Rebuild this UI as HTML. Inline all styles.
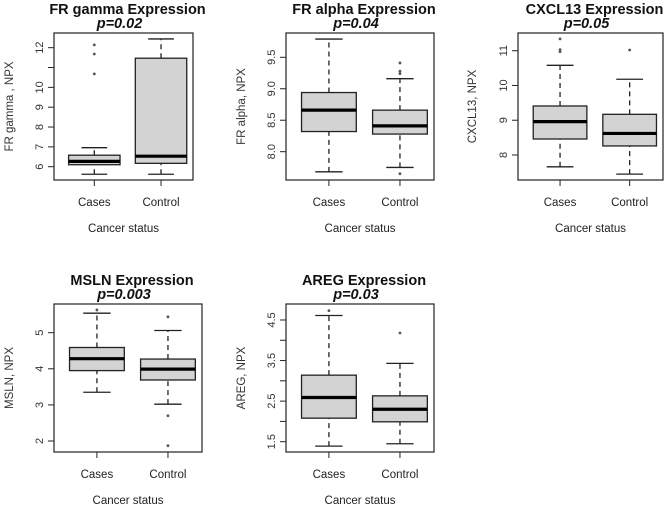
<!DOCTYPE html>
<html><head><meta charset="utf-8">
<style>
html,body{margin:0;padding:0;background:#fff;}
svg{display:block;font-family:"Liberation Sans",Arial,sans-serif;}
</style></head>
<body>
<svg id="chart" width="669" height="506" viewBox="0 0 669 506" xmlns="http://www.w3.org/2000/svg"></svg>
<script>
// ---- data ----
const categories = ["Cases", "Control"];
const titles = ["FR gamma  Expression", "FR alpha Expression", "CXCL13  Expression", "MSLN Expression", "AREG Expression"];
const pValues = ["p=0.02", "p=0.04", "p=0.05", "p=0.003", "p=0.03"];
const yTitles = ["FR gamma  , NPX", "FR alpha, NPX", "CXCL13, NPX", "MSLN, NPX", "AREG, NPX"];
// stats per category: [lowWhisker, Q1, median, Q3, highWhisker]
const frGammaStats = [[5.62, 6.1, 6.27, 6.58, 6.96], [5.62, 6.17, 6.53, 11.47, 12.44]];
const frGammaOutliers = [[10.68, 11.68, 12.14], []];
const frAlphaStats = [[7.68, 8.32, 8.66, 8.94, 9.79], [7.75, 8.28, 8.41, 8.66, 9.16]];
const frAlphaOutliers = [[], [7.65, 9.24, 9.28, 9.41]];
const cxcl13Stats = [[7.66, 8.46, 8.96, 9.41, 10.58], [7.45, 8.26, 8.62, 9.17, 10.18]];
const cxcl13Outliers = [[10.97, 11.03, 11.34], [11.02]];
const mslnStats = [[3.35, 3.95, 4.28, 4.59, 5.54], [3.02, 3.69, 3.99, 4.27, 5.06]];
const mslnOutliers = [[5.63], [5.44, 2.70, 1.87]];
const aregStats = [[1.39, 2.08, 2.59, 3.14, 4.61], [1.45, 1.99, 2.30, 2.63, 3.43]];
const aregOutliers = [[4.73], [4.18]];
const yDomains = [[5.33, 12.74], [7.55, 9.886], [7.28, 11.51], [1.695, 5.795], [1.246, 4.894]];
const tickValues = [[6,7,8,9,10,11,12],[8.0,8.5,9.0,9.5],[8,9,10,11],[2,3,4,5],[1.5,2.0,2.5,3.0,3.5,4.0,4.5]];
const tickLabels = [["6","7","8","9","10","","12"],["8.0","8.5","9.0","9.5"],["8","9","10","11"],["2","3","4","5"],["1.5","","2.5","","3.5","","4.5"]];
const allStats = [frGammaStats, frAlphaStats, cxcl13Stats, mslnStats, aregStats];
const allOutliers = [frGammaOutliers, frAlphaOutliers, cxcl13Outliers, mslnOutliers, aregOutliers];
const panelNames = ["fr-gamma", "fr-alpha", "cxcl13", "msln", "areg"];

// ---- layout ----
const frames = [
  {l:54,r:193,t:33,b:180},
  {l:286,r:434,t:33,b:180},
  {l:518,r:663,t:33,b:180},
  {l:54,r:202,t:304,b:452},
  {l:286,r:434,t:304,b:452}
];
const yTitleX = [9, 241, 472, 9, 241];

const NS = "http://www.w3.org/2000/svg";
const svg = document.getElementById("chart");
function mk(tag, attrs, parent){
  const e = document.createElementNS(NS, tag);
  for (const k in attrs) e.setAttribute(k, attrs[k]);
  (parent||svg).appendChild(e);
  return e;
}

for (let p = 0; p < 5; p++) {
  const f = frames[p];
  const dom = yDomains[p];
  const y = v => f.b - (v - dom[0]) / (dom[1] - dom[0]) * (f.b - f.t);
  const w = f.r - f.l;
  const x = i => f.l + w * (0.29 + 0.48 * i);
  const half = w * 0.185;
  const g = mk("g", {});
  
  
  const cx = (f.l + f.r) / 2;

  const t = mk("text", {x: cx + 4, y: f.t - 19, "text-anchor":"middle", "font-size":"14.5", "font-weight":"bold", fill:"#111"}, g);
  t.textContent = titles[p];
  
  
  const pv = mk("text", {x: cx - 4, y: f.t - 5, "text-anchor":"middle", "font-size":"14.5", "font-weight":"bold", "font-style":"italic", fill:"#111"}, g);
  pv.textContent = pValues[p];
  
  

  // boxes
  for (let i = 0; i < categories.length; i++) {
    const s = allStats[p][i];
    const xc = x(i);
    const bg = mk("g", {}, g);
    
    
    mk("line", {x1:xc, x2:xc, y1:y(s[0]), y2:y(s[1]), stroke:"#222", "stroke-width":"1.3", "stroke-dasharray":"5,4"}, bg);
    mk("line", {x1:xc, x2:xc, y1:y(s[3]), y2:y(s[4]), stroke:"#222", "stroke-width":"1.3", "stroke-dasharray":"5,4"}, bg);
    mk("line", {x1:xc-half/2, x2:xc+half/2, y1:y(s[0]), y2:y(s[0]), stroke:"#222", "stroke-width":"1.3"}, bg);
    mk("line", {x1:xc-half/2, x2:xc+half/2, y1:y(s[4]), y2:y(s[4]), stroke:"#222", "stroke-width":"1.3"}, bg);
    mk("rect", {x:xc-half, y:y(s[3]), width:2*half, height:y(s[1])-y(s[3]), fill:"#d3d3d3", stroke:"#222", "stroke-width":"1.3"}, bg);
    mk("line", {x1:xc-half, x2:xc+half, y1:y(s[2]), y2:y(s[2]), stroke:"#000", "stroke-width":"3.2"}, bg);
    for (const o of allOutliers[p][i]) {
      const c = mk("circle", {cx:xc, cy:y(o), r:1.4, fill:"#555"}, bg);
      
      
    }
  }

  // frame
  const fr = mk("rect", {x:f.l, y:f.t, width:w, height:f.b-f.t, fill:"none", stroke:"#222", "stroke-width":"1.2"}, g);
  
  

  // y axis
  const ya = mk("g", {}, g);
  
  
  tickValues[p].forEach((v, k) => {
    const yy = y(v);
    mk("line", {x1:f.l-6, x2:f.l, y1:yy, y2:yy, stroke:"#222", "stroke-width":"1"}, ya);
    if (tickLabels[p][k]) {
      const tl = mk("text", {x:0, y:0, transform:`translate(${f.l-11},${yy}) rotate(-90)`, "text-anchor":"middle", "font-size":"11", fill:"#333"}, ya);
      tl.textContent = tickLabels[p][k];
    }
  });
  const yt = mk("text", {x:0, y:0, transform:`translate(${yTitleX[p]+4},${(f.t+f.b)/2}) rotate(-90)`, "text-anchor":"middle", "font-size":"11.5", fill:"#333"}, g);
  yt.textContent = yTitles[p];
  
  

  // x axis
  const xa = mk("g", {}, g);
  
  
  categories.forEach((c, i) => {
    mk("line", {x1:x(i), x2:x(i), y1:f.b, y2:f.b+6, stroke:"#222", "stroke-width":"1"}, xa);
    const tl = mk("text", {x:x(i), y:f.b+26, "text-anchor":"middle", "font-size":"11.5", fill:"#222"}, xa);
    tl.textContent = c;
  });
  const xt = mk("text", {x:cx, y:f.b+52, "text-anchor":"middle", "font-size":"11.5", fill:"#222"}, g);
  xt.textContent = "Cancer status";
  
  
}
</script>
</body></html>
